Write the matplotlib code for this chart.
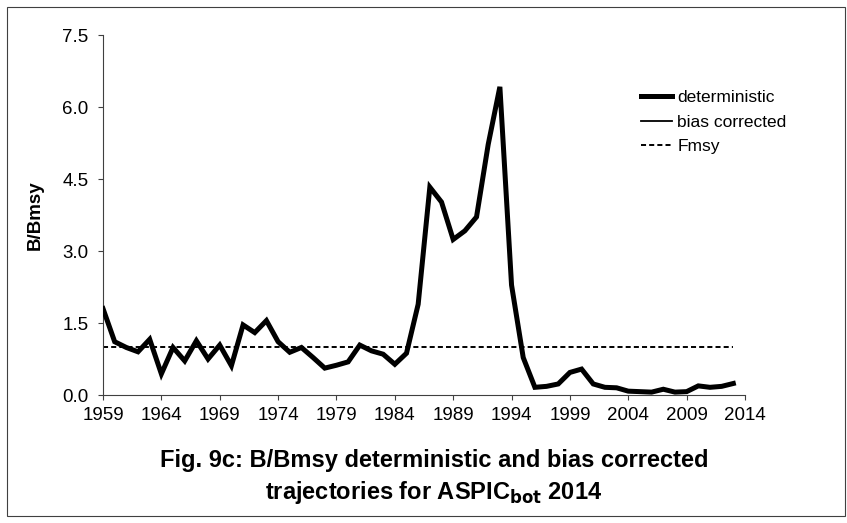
import matplotlib.pyplot as plt
from matplotlib.lines import Line2D
from matplotlib.patches import Rectangle

plt.rcParams['font.family'] = ['Liberation Sans', 'DejaVu Sans']

# B/Bmsy deterministic trajectory
years = list(range(1959, 2014))
deterministic = [
    1.80, 1.11, 0.99, 0.90, 1.16, 0.44, 0.99, 0.71, 1.13, 0.75,
    1.04, 0.61, 1.46, 1.30, 1.55, 1.11, 0.89, 0.99, 0.78, 0.56,
    0.62, 0.69, 1.04, 0.92, 0.85, 0.64, 0.87, 1.89, 4.33, 4.02,
    3.24, 3.42, 3.71, 5.22, 6.42, 2.29, 0.78, 0.16, 0.18, 0.23,
    0.47, 0.54, 0.23, 0.16, 0.15, 0.08, 0.07, 0.06, 0.12, 0.06,
    0.07, 0.19, 0.16, 0.18, 0.24,
]
fmsy_level = 1.0
xticks = list(range(1959, 2015, 5))
yticks = [0.0, 1.5, 3.0, 4.5, 6.0, 7.5]

W, H = 847, 523
fig = plt.figure(figsize=(W / 100, H / 100), dpi=100)
ax = fig.add_axes([103 / W, 1 - 395 / H, (745 - 103) / W, (395 - 35) / H])

ax.plot(years, deterministic, color='black', linewidth=3.6, solid_joinstyle='miter', zorder=3)
ax.plot([years[0], years[-1]], [fmsy_level, fmsy_level], color='black',
        linewidth=1.4, dashes=(2.6, 1.6), zorder=2)

ax.set_xlim(1959, 2014)
ax.set_ylim(0, 7.5)
ax.set_xticks(xticks)
ax.set_yticks(yticks)
ax.set_yticklabels(['%.1f' % v for v in yticks])
ax.tick_params(labelsize=13.5, direction='out', length=3.6, width=0.8, color='#404040')
ax.tick_params(axis='y', pad=7)
ax.tick_params(axis='x', pad=5)
for side in ['top', 'right']:
    ax.spines[side].set_visible(False)
for side in ['left', 'bottom']:
    ax.spines[side].set_color('#404040')
    ax.spines[side].set_linewidth(0.8)

fig.text(35 / W, 1 - 215 / H, 'B/Bmsy', rotation=90, ha='center', va='center',
         fontsize=13.5, fontweight='bold')

handles = [
    Line2D([], [], color='black', linewidth=3.6),
    Line2D([], [], color='black', linewidth=1.3),
    Line2D([], [], color='black', linewidth=1.4, dashes=(2.6, 1.6)),
]
labels = ['deterministic', 'bias corrected', 'Fmsy']
ax.legend(handles, labels, loc='upper left', bbox_to_anchor=(641 / W, 1 - 90 / H),
          bbox_transform=fig.transFigure, frameon=False, fontsize=12.5,
          handlelength=1.8, handletextpad=0.3, labelspacing=0.54,
          borderpad=0, borderaxespad=0)

fig.text(434 / W, 1 - 461 / H, 'Fig. 9c: B/Bmsy deterministic and bias corrected',
         ha='center', va='center', fontsize=17, fontweight='bold')
fig.text(434 / W, 1 - 492 / H, r'trajectories for ASPIC$_{\mathbf{bot}}$ 2014',
         ha='center', va='center', fontsize=17, fontweight='bold')

fig.patches.append(Rectangle((7 / W, 7 / H), 838 / W, 509 / H,
                             transform=fig.transFigure, fill=False,
                             edgecolor='#404040', linewidth=0.8))

fig.savefig('out.png', dpi=100)
